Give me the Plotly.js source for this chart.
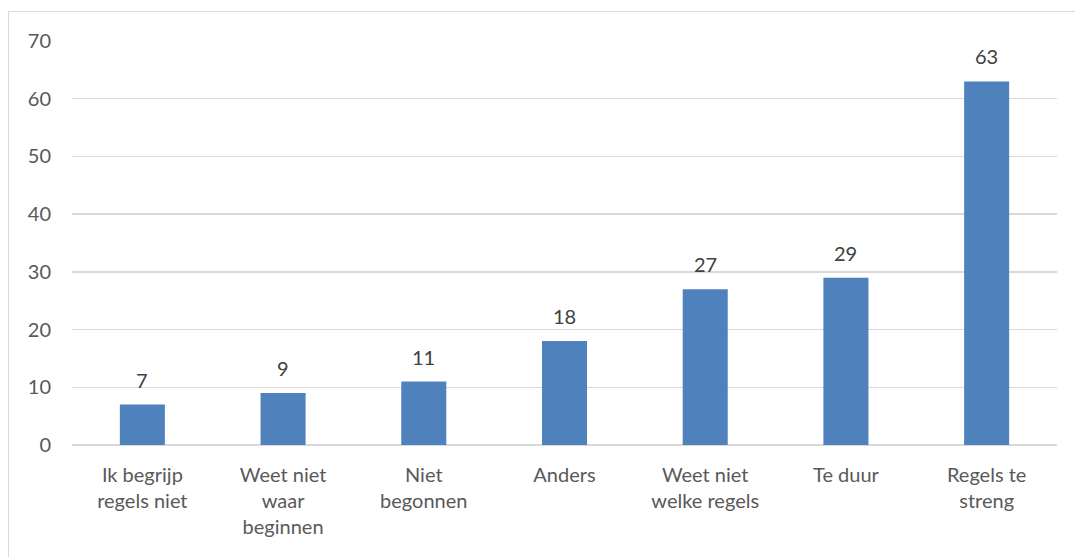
<!DOCTYPE html>
<html><head><meta charset="utf-8">
<script src="https://cdn.plot.ly/plotly-3.0.1.min.js"></script>
<style>
html,body{margin:0;padding:0;background:#fff;}
#chart{width:1075px;height:557px;}
#frame{position:absolute;left:8px;top:11px;width:1075px;height:600px;border:1px solid #d9d9d9;pointer-events:none;box-sizing:border-box;}
</style></head>
<body>
<div id="chart"></div>
<div id="frame"></div>
<script>
const categories = ["Ik begrijp<br>regels niet","Weet niet<br>waar<br>beginnen","Niet<br>begonnen","Anders","Weet niet<br>welke regels","Te duur","Regels te<br>streng"];
const values = [7, 9, 11, 18, 27, 29, 63];
const yTicks = [0,10,20,30,40,50,60,70];

const font = "Lato, 'Open Sans', sans-serif";
const trace = {
  type: 'bar', x: categories, y: values,
  marker: {color: '#4F81BD'},
  hoverinfo: 'none'
};
const annotations = categories.map((c,i)=>({
  x: c, y: values[i], xref:'x', yref:'y', text: String(values[i]),
  showarrow:false, yanchor:'bottom', yshift: 11,
  font:{family:font, size:20, color:'#404040'}
}));
const layout = {
  width:1075, height:557,
  margin:{l:72, r:18, t:41, b:112},
  paper_bgcolor:'#fff', plot_bgcolor:'#fff',
  bargap:0.68,
  showlegend:false,
  font:{family:font, size:20, color:'#595959'},
  xaxis:{type:'category', showgrid:false, showline:false, zeroline:false, ticks:'', tickfont:{family:font,size:20,color:'#595959'}, ticklabelstandoff:16},
  yaxis:{range:[0,70], tickvals:yTicks, showgrid:true, gridcolor:'#d9d9d9', gridwidth:1.5, zeroline:true, zerolinecolor:'#d9d9d9', zerolinewidth:1.5, showline:false, ticks:'', tickfont:{family:font,size:20,color:'#595959'}, ticklabelstandoff:20},
  annotations: annotations
};
Plotly.newPlot('chart',[trace],layout,{staticPlot:true});
</script>
</body></html>
